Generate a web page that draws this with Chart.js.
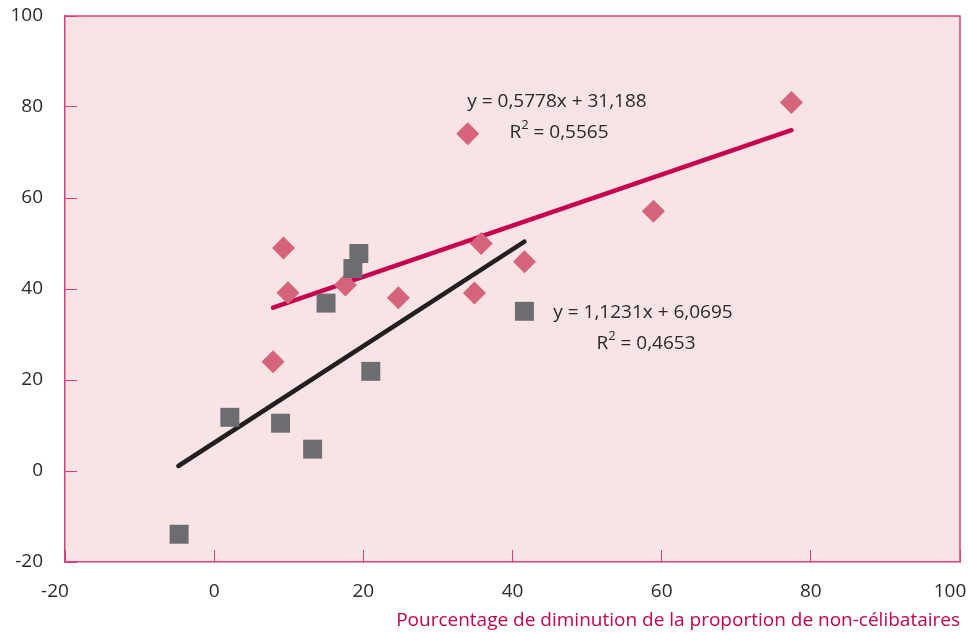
<!DOCTYPE html>
<html lang="fr">
<head>
<meta charset="utf-8">
<script src="https://cdn.jsdelivr.net/npm/chart.js@4.4.1/dist/chart.umd.min.js"></script>
<style>
    html, body { margin: 0; padding: 0; background: #ffffff; }
    #wrap { width: 968px; height: 632px; }
</style>
</head>
<body>
<div id="wrap"><canvas id="chart" width="968" height="632"></canvas></div>
<script>
// Axis ticks
const xTicks = [-20, 0, 20, 40, 60, 80, 100];
const yTicks = [-20, 0, 20, 40, 60, 80, 100];

// Pink diamonds
const diamondX = [7.9, 9.3, 9.9, 17.6, 24.7, 34.0, 34.9, 35.8, 41.6, 58.9, 77.4];
const diamondY = [24.0, 49.0, 39.2, 40.9, 38.1, 74.1, 39.1, 50.0, 46.0, 57.1, 81.0];

// Grey squares
const squareX = [-4.7, 2.1, 8.9, 13.2, 15.0, 18.6, 19.4, 21.0, 41.6];
const squareY = [-13.9, 11.8, 10.5, 4.8, 36.9, 44.5, 47.8, 21.9, 35.1];

// Trend line end points
const pinkTrendX = [7.9, 77.4];
const pinkTrendY = [35.9, 74.9];
const greyTrendX = [-4.8, 41.6];
const greyTrendY = [1.1, 50.4];

const xTitle = 'Pourcentage de diminution de la proportion de non-célibataires';

const FONT = '"Open Sans", "Noto Sans", sans-serif';
const AXIS_PINK = '#d9407f';
const TEXT_DARK = '#2b2a2b';

function toPoints(xs, ys) {
    return xs.map((x, i) => ({ x: x, y: ys[i] }));
}

// equations drawn inside the plot (pixel layout)
const notes = [
    { main: 'y = 0,5778x + 31,188', x: 557, y: 102 },
    { r2: '0,5565', x: 559, y: 133 },
    { main: 'y = 1,1231x + 6,0695', x: 643, y: 313 },
    { r2: '0,4653', x: 646, y: 344 },
];

const plotFrame = {
    id: 'plotFrame',
    beforeDraw(chart) {
        const { ctx, chartArea: a } = chart;
        ctx.save();
        ctx.fillStyle = '#f8e3e5';
        ctx.fillRect(a.left, a.top, a.right - a.left, a.bottom - a.top);
        ctx.restore();

        // pull the outer x labels a little to the left, as in the original
        const items = chart.scales.x.getLabelItems();
        if (items.length) {
            items[0].options.translation[0] -= 10;
            items[items.length - 1].options.translation[0] -= 10;
        }
    },
    afterDraw(chart) {
        const { ctx, chartArea: a } = chart;
        ctx.save();
        ctx.strokeStyle = AXIS_PINK;
        ctx.lineWidth = 1.5;
        ctx.beginPath();
        ctx.moveTo(a.left, a.top);
        ctx.lineTo(a.right, a.top);
        ctx.lineTo(a.right, a.bottom);
        ctx.stroke();
        ctx.restore();
    }
};

const equationLabels = {
    id: 'equationLabels',
    afterDatasetsDraw(chart) {
        const ctx = chart.ctx;
        ctx.save();
        ctx.fillStyle = TEXT_DARK;
        ctx.textBaseline = 'middle';
        notes.forEach((n) => {
            ctx.font = '19px ' + FONT;
            if (n.main) {
                ctx.textAlign = 'center';
                ctx.fillText(n.main, n.x, n.y);
                return;
            }
            const rest = ' = ' + n.r2;
            ctx.textAlign = 'left';
            const wR = ctx.measureText('R').width;
            const wRest = ctx.measureText(rest).width;
            ctx.font = '13px ' + FONT;
            const wSup = ctx.measureText('2').width;
            const total = wR + wSup + wRest;
            let x = n.x - total / 2;
            ctx.font = '19px ' + FONT;
            ctx.fillText('R', x, n.y);
            x += wR;
            ctx.font = '13px ' + FONT;
            ctx.fillText('2', x, n.y - 8);
            x += wSup;
            ctx.font = '19px ' + FONT;
            ctx.fillText(rest, x, n.y);
        });
        ctx.restore();
    }
};

function noEdgePadding(scale) {
    scale.paddingLeft = 0;
    scale.paddingRight = 0;
    scale.paddingTop = 0;
    scale.paddingBottom = 0;
}

const ctx = document.getElementById('chart').getContext('2d');
new Chart(ctx, {
    type: 'scatter',
    data: {
        datasets: [
            {
                label: 'carrés',
                data: toPoints(squareX, squareY),
                pointStyle: 'rect',
                pointRadius: 13.4,
                backgroundColor: '#6c6d70',
                borderWidth: 0,
                order: 1,
            },
            {
                label: 'losanges',
                data: toPoints(diamondX, diamondY),
                pointStyle: 'rectRot',
                pointRadius: 11.5,
                backgroundColor: '#d5637a',
                borderWidth: 0,
                order: 2,
            },
            {
                type: 'line',
                label: 'tendance losanges',
                data: toPoints(pinkTrendX, pinkTrendY),
                borderColor: '#c8004f',
                borderWidth: 4.5,
                borderCapStyle: 'round',
                pointRadius: 0,
                fill: false,
                order: 3,
            },
            {
                type: 'line',
                label: 'tendance carrés',
                data: toPoints(greyTrendX, greyTrendY),
                borderColor: '#231f20',
                borderWidth: 4.5,
                borderCapStyle: 'round',
                pointRadius: 0,
                fill: false,
                order: 3,
            }
        ]
    },
    options: {
        responsive: false,
        animation: false,
        layout: { autoPadding: false, padding: { top: 16, right: 8, left: 0, bottom: 0 } },
        plugins: {
            legend: { display: false },
            tooltip: { enabled: false },
        },
        scales: {
            x: {
                type: 'linear',
                position: 'bottom',
                min: -20,
                max: 100,
                afterBuildTicks: (scale) => { scale.ticks = xTicks.map((v) => ({ value: v })); },
                afterFit: (scale) => { scale.height = 70; noEdgePadding(scale); },
                border: { display: true, color: AXIS_PINK, width: 1.5 },
                grid: { drawOnChartArea: false, drawTicks: true, tickLength: -12, color: AXIS_PINK, lineWidth: 1 },
                ticks: { color: TEXT_DARK, font: { family: FONT, size: 19 }, padding: 30, maxRotation: 0 },
                title: {
                    display: true,
                    text: xTitle,
                    align: 'end',
                    color: '#c8004f',
                    font: { family: FONT, size: 19 },
                    padding: { top: 0, bottom: 0 },
                },
            },
            y: {
                type: 'linear',
                min: -20,
                max: 100,
                afterBuildTicks: (scale) => { scale.ticks = yTicks.map((v) => ({ value: v })); },
                afterFit: (scale) => { scale.width = 65; noEdgePadding(scale); },
                border: { display: true, color: AXIS_PINK, width: 1.5 },
                grid: { drawOnChartArea: false, drawTicks: true, tickLength: -12, color: AXIS_PINK, lineWidth: 1 },
                ticks: { color: TEXT_DARK, font: { family: FONT, size: 19 }, padding: 34 },
            }
        }
    },
    plugins: [plotFrame, equationLabels]
});
</script>
</body>
</html>
